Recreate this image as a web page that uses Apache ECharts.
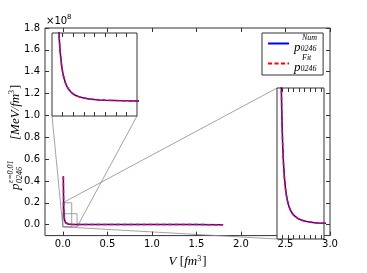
<!DOCTYPE html>
<html>
<head>
<meta charset="utf-8">
<script src="https://cdn.jsdelivr.net/npm/echarts@6/dist/echarts.min.js"></script>
<style>
html,body{margin:0;padding:0;background:#fff;}
#c{width:367px;height:273px;}
</style>
</head>
<body>
<div id="c"></div>
<script>
// ---- data (pressure in units of 1e8 MeV/fm^3) ----
const V = [0.0062, 0.0066, 0.007, 0.0075, 0.008, 0.0085, 0.009, 0.0095, 0.010, 0.011,
           0.012, 0.013, 0.014, 0.015, 0.016, 0.018, 0.020, 0.022, 0.025, 0.028,
           0.032, 0.036, 0.040, 0.045, 0.050, 0.060, 0.070, 0.080, 0.090, 0.10,
           0.12, 0.14, 0.16, 0.20, 0.30, 0.50, 0.80, 1.0, 1.4, 1.8];
const pNum = [0.443, 0.391, 0.348, 0.303, 0.267, 0.236, 0.211, 0.190, 0.171, 0.142,
              0.119, 0.102, 0.088, 0.077, 0.0676, 0.0537, 0.0437, 0.0363, 0.0284, 0.0229,
              0.0178, 0.0143, 0.0118, 0.0096, 0.0080, 0.0059, 0.0046, 0.0038, 0.0033, 0.0029,
              0.0024, 0.0020, 0.0017, 0.0013, 0.0010, 0.0008, 0.0006, 0.0005, 0.0005, 0.0004];
const pFit = [0.443, 0.391, 0.348, 0.303, 0.267, 0.236, 0.211, 0.190, 0.171, 0.142,
              0.119, 0.102, 0.088, 0.077, 0.0676, 0.0537, 0.0437, 0.0363, 0.0284, 0.0229,
              0.0178, 0.0143, 0.0118, 0.0096, 0.0080, 0.0059, 0.0046, 0.0038, 0.0033, 0.0029,
              0.0024, 0.0020, 0.0017, 0.0013, 0.0010, 0.0008, 0.0006, 0.0005, 0.0005, 0.0004];

const xTicks = [0.0, 0.5, 1.0, 1.5, 2.0, 2.5, 3.0];
const yTicks = [0.0, 0.2, 0.4, 0.6, 0.8, 1.0, 1.2, 1.4, 1.6, 1.8];
const mainX = [-0.2, 3.0];
const mainY = [-0.1, 1.8];

// inset 1 (upper left) view window
const in1X = [0.0, 0.16];
const in1Y = [-0.02, 0.10];
const in1XTicks = [0.02, 0.04, 0.06, 0.08, 0.10, 0.12, 0.14];
// inset 2 (right) view window
const in2X = [0.0, 0.10];
const in2Y = [-0.02, 0.20];
const in2XTicks = [0.012, 0.024, 0.035, 0.047, 0.059, 0.071, 0.082, 0.094];

const legendNames = ['Num', 'Fit'];

function pts(xs, ys){ return xs.map((x,i)=>[x, ys[i]]); }
function rect(xr, yr){ return [[xr[0],yr[0]],[xr[1],yr[0]],[xr[1],yr[1]],[xr[0],yr[1]],[xr[0],yr[0]]]; }

const spine = '#333';
const tickStyle = {color: spine, width: 1};

function xAx(grid, range, ticks, pos, labels, z){
  return {
    gridIndex: grid, type: 'value', min: range[0], max: range[1], position: pos, z: z,
    axisLine: {show: false, onZero: false},
    axisTick: {show: !!ticks, inside: true, length: 4, customValues: ticks || [], lineStyle: tickStyle},
    axisLabel: labels ? {show: true, customValues: ticks, formatter: v => v.toFixed(1),
                color: '#000', fontSize: 10, fontFamily: 'DejaVu Sans', margin: 4}
              : {show: false},
    splitLine: {show: false}
  };
}
function yAx(grid, range, ticks, pos, labels, z){
  return {
    gridIndex: grid, type: 'value', min: range[0], max: range[1], position: pos, z: z,
    axisLine: {show: false, onZero: false},
    axisTick: {show: !!ticks, inside: true, length: 4, customValues: ticks || [], lineStyle: tickStyle},
    axisLabel: labels ? {show: true, customValues: ticks, formatter: v => v.toFixed(1),
                color: '#000', fontSize: 10, fontFamily: 'DejaVu Sans', margin: 5}
              : {show: false},
    splitLine: {show: false}
  };
}

const xAxes = [
  xAx(0, mainX, xTicks, 'bottom', true, 1),
  xAx(0, mainX, xTicks, 'top', false, 1),
  xAx(1, in1X, in1XTicks, 'bottom', false, 6),
  xAx(1, in1X, in1XTicks, 'top', false, 6),
  xAx(2, in2X, in2XTicks, 'bottom', false, 6),
  xAx(2, in2X, in2XTicks, 'top', false, 6)
];
xAxes[0].name = '{i|V} {n|[}{i|fm}{s|3}{n|]}';
xAxes[0].nameLocation = 'middle';
xAxes[0].nameGap = 11;
xAxes[0].nameTextStyle = {
  color: '#000',
  rich: {
    i: {fontFamily: 'Liberation Serif', fontStyle: 'italic', fontSize: 13, color: '#000'},
    n: {fontFamily: 'Liberation Serif', fontSize: 13, color: '#000'},
    s: {fontFamily: 'Liberation Serif', fontSize: 8, color: '#000', verticalAlign: 'top', padding: [0,1,6,0]}
  }
};

const yAxes = [
  yAx(0, mainY, yTicks, 'left', true, 1),
  yAx(0, mainY, yTicks, 'right', false, 1),
  yAx(1, in1Y, null, 'left', false, 6),
  yAx(2, in2Y, null, 'left', false, 6)
];

const numStyle = {color: '#0000ff', width: 1.5, type: 'solid'};
const fitStyle = {color: '#ff0000', width: 1.5, type: [4, 2.5]};

function curve(name, xi, yi, ys, style, z){
  return {
    name: name, type: 'line', xAxisIndex: xi, yAxisIndex: yi,
    data: pts(V, ys), showSymbol: false, symbol: 'none', clip: true,
    lineStyle: style, itemStyle: {color: style.color}, z: z, silent: true
  };
}

const rectStyle = {color: '#8c8c8c', width: 0.8};
const series = [
  {type: 'line', xAxisIndex: 0, yAxisIndex: 0, data: rect(in2X, in2Y), symbol: 'none',
   lineStyle: rectStyle, z: 1, silent: true},
  {type: 'line', xAxisIndex: 0, yAxisIndex: 0, data: rect(in1X, in1Y), symbol: 'none',
   lineStyle: rectStyle, z: 1, silent: true},
  curve(legendNames[0], 0, 0, pNum, numStyle, 2),
  curve(legendNames[1], 0, 0, pFit, fitStyle, 3),
  curve(legendNames[0], 2, 2, pNum, numStyle, 8),
  curve(legendNames[1], 2, 2, pFit, fitStyle, 9),
  curve(legendNames[0], 4, 3, pNum, numStyle, 8),
  curve(legendNames[1], 4, 3, pFit, fitStyle, 9)
];

const chart = echarts.init(document.getElementById('c'), null, {renderer: 'canvas'});
const option = {
  animation: false,
  backgroundColor: '#fff',
  grid: [
    {left: 45, top: 28, width: 285, height: 217, show: true, borderColor: spine, borderWidth: 1, backgroundColor: 'transparent', z: 0},
    {left: 52, top: 33, width: 85, height: 83, show: true, borderColor: spine, borderWidth: 1, backgroundColor: '#fff', z: 5},
    {left: 277, top: 88, width: 47, height: 151, show: true, borderColor: spine, borderWidth: 1, backgroundColor: '#fff', z: 5}
  ],
  xAxis: xAxes,
  yAxis: yAxes,
  legend: {
    data: legendNames,
    orient: 'vertical',
    left: 262, top: 33,
    itemWidth: 21, itemHeight: 10, itemGap: 0,
    padding: [1, 6, 1, 5],
    borderColor: spine, borderWidth: 1, borderRadius: 0,
    backgroundColor: '#fff',
    selectedMode: false,
    z: 10,
    itemStyle: {opacity: 0},
    formatter: n => '{sup|' + n + '}\n{p|p}{sub|0246}',
    textStyle: {
      color: '#000',
      rich: {
        sup: {fontFamily: 'Liberation Serif', fontStyle: 'italic', fontSize: 8, lineHeight: 8, padding: [0,0,0,8], color: '#000'},
        p: {fontFamily: 'Liberation Serif', fontStyle: 'italic', fontSize: 13, lineHeight: 11, color: '#000'},
        sub: {fontFamily: 'Liberation Serif', fontStyle: 'italic', fontSize: 8, lineHeight: 11, verticalAlign: 'bottom', color: '#000'}
      }
    },
    itemTextGap: 7
  },
  series: series
};
chart.setOption(option);

function px(xi, yi, pt){ return chart.convertToPixel({xAxisIndex: xi, yAxisIndex: yi}, pt); }
const a1 = px(2, 2, [in1X[0], in1Y[0]]), b1 = px(0, 0, [in1X[0], in1Y[0]]);
const a2 = px(2, 2, [in1X[1], in1Y[0]]), b2 = px(0, 0, [in1X[1], in1Y[0]]);
const a3 = px(4, 3, [in2X[0], in2Y[1]]), b3 = px(0, 0, [in2X[0], in2Y[1]]);
const a4 = px(4, 3, [in2X[0], in2Y[0]]), b4 = px(0, 0, [in2X[0], in2Y[0]]);
const connStyle = {stroke: '#8c8c8c', lineWidth: 0.8};
function conn(a, b){ return {type: 'line', shape: {x1: a[0], y1: a[1], x2: b[0], y2: b[1]}, style: connStyle, z: 1, silent: true}; }

const serif = 'Liberation Serif';
chart.setOption({
  graphic: [
    conn(a1, b1), conn(a2, b2), conn(a3, b3), conn(a4, b4),
    {type: 'text', left: 46, top: 14, z: 10, silent: true,
     style: {text: '{a|×10}{b|8}', rich: {
       a: {fontFamily: 'DejaVu Sans', fontSize: 10, fill: '#000', verticalAlign: 'bottom'},
       b: {fontFamily: 'DejaVu Sans', fontSize: 7, fill: '#000', verticalAlign: 'top', padding: [0,0,5,0]}}}},
    {type: 'group', x: 16, y: 136, rotation: Math.PI / 2, z: 10, silent: true,
     children: [
       {type: 'text', x: -54, y: 0, style: {text: 'p', font: 'italic 13px ' + serif, fill: '#000', textAlign: 'left', textVerticalAlign: 'middle'}},
       {type: 'text', x: -47, y: 4, style: {text: '0246', font: 'italic 8px ' + serif, fill: '#000', textAlign: 'left', textVerticalAlign: 'middle'}},
       {type: 'text', x: -47, y: -5, style: {text: 'ε=0.01', font: 'italic 8px ' + serif, fill: '#000', textAlign: 'left', textVerticalAlign: 'middle'}},
       {type: 'text', x: -4, y: 0, style: {text: '[MeV/fm', font: 'italic 13px ' + serif, fill: '#000', textAlign: 'left', textVerticalAlign: 'middle'}},
       {type: 'text', x: 42, y: -4, style: {text: '3', font: '8px ' + serif, fill: '#000', textAlign: 'left', textVerticalAlign: 'middle'}},
       {type: 'text', x: 47, y: 0, style: {text: ']', font: '13px ' + serif, fill: '#000', textAlign: 'left', textVerticalAlign: 'middle'}}
     ]}
  ]
});
</script>
</body>
</html>
